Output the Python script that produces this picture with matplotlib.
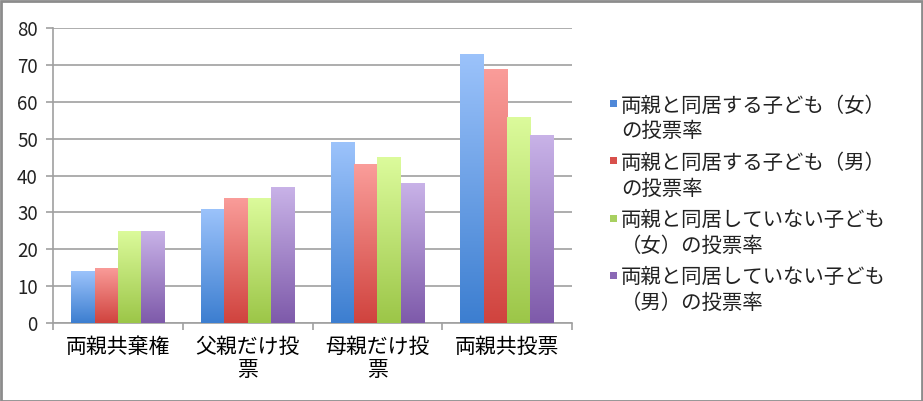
import numpy as np
import matplotlib
matplotlib.use("Agg")
import matplotlib.pyplot as plt
from matplotlib.patches import Rectangle
from matplotlib.colors import LinearSegmentedColormap

plt.rcParams['font.family'] = ['Noto Sans CJK JP', 'DejaVu Sans']

categories = ['両親共棄権', '父親だけ投\n票', '母親だけ投\n票', '両親共投票']
series_labels = ['両親と同居する子ども（女）\nの投票率',
                 '両親と同居する子ども（男）\nの投票率',
                 '両親と同居していない子ども\n（女）の投票率',
                 '両親と同居していない子ども\n（男）の投票率']
girls_with_parents = [14, 31, 49, 73]
boys_with_parents = [15, 34, 43, 69]
girls_without_parents = [25, 34, 45, 56]
boys_without_parents = [25, 37, 38, 51]
series = [girls_with_parents, boys_with_parents, girls_without_parents, boys_without_parents]

top_colors = ['#9cc3fb', '#fa9d9a', '#dcfb9c', '#c9b3e8']
bottom_colors = ['#3c7ed0', '#d0433e', '#9cc648', '#7e5aaa']
legend_colors = ['#4f88d8', '#d8504c', '#a8d060', '#8a68b5']

W, H = 923, 401
fig = plt.figure(figsize=(W / 100, H / 100), dpi=100)
ax = fig.add_axes([53 / W, 1 - 323 / H, (572 - 53) / W, (323 - 28) / H])

n = len(series)
bw = 0.18
x = np.arange(len(categories))
for i, vals in enumerate(series):
    offs = (i - (n - 1) / 2) * bw
    bars = ax.bar(x + offs, vals, bw, color='none', edgecolor='none', zorder=3)
    cmap = LinearSegmentedColormap.from_list('g%d' % i, [bottom_colors[i], top_colors[i]])
    for b in bars:
        bx, by = b.get_x(), b.get_y()
        bwid, bh = b.get_width(), b.get_height()
        grad = np.linspace(0, 1, 256).reshape(-1, 1)
        im = ax.imshow(grad, extent=[bx, bx + bwid, by, by + bh], origin='lower',
                       cmap=cmap, aspect='auto', zorder=3)
        im.set_clip_path(b)

ax.set_xlim(-0.5, len(categories) - 0.5)
ax.set_ylim(0, 80)
ax.set_yticks(range(0, 81, 10))
ax.yaxis.grid(True, color='#a0a0a0', linewidth=1.2, zorder=0)
ax.set_axisbelow(True)
ax.set_xticks(x)
ax.set_xticklabels(categories, fontsize=15, linespacing=1.1)
ax.set_xticks(np.arange(-0.5, len(categories), 1), minor=True)
ax.tick_params(axis='x', which='major', length=0, pad=9)
ax.tick_params(axis='x', which='minor', length=5, color='#a0a0a0', width=1.2)
ax.tick_params(axis='y', length=5, color='#a0a0a0', width=1.2, labelsize=13.5, pad=6,
               labelcolor='#222222')
for s in ['top', 'right']:
    ax.spines[s].set_visible(False)
for s in ['left', 'bottom']:
    ax.spines[s].set_color('#a0a0a0')
    ax.spines[s].set_linewidth(1.2)

# legend (manual, marker aligned to first line)
for i, lab in enumerate(series_labels):
    yc = 103.5 + i * 57.3
    fig.patches.append(Rectangle((610 / W, 1 - (yc + 3.5) / H), 7 / W, 7 / H,
                                 transform=fig.transFigure, facecolor=legend_colors[i],
                                 edgecolor='none'))
    fig.text(621 / W, 1 - (yc - 8) / H, lab, fontsize=14.7, va='top', ha='left',
             linespacing=1.3, color='#222222')

# figure border
fig.patches.append(Rectangle((0.5 / W, 0.5 / H), 1 - 1.5 / W, 1 - 1.5 / H,
                             transform=fig.transFigure, facecolor='none',
                             edgecolor='#8c8c8c', linewidth=2))

fig.savefig('out.png', dpi=100)
